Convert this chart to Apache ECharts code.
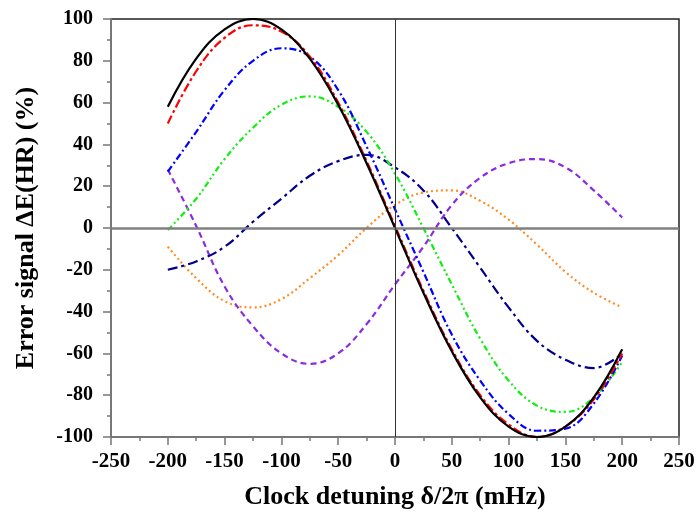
<!DOCTYPE html>
<html>
<head>
<meta charset="utf-8">
<script src="https://cdn.jsdelivr.net/npm/echarts@6/dist/echarts.min.js"></script>
<style>html,body{margin:0;padding:0;background:#fff}#c{width:700px;height:522px}</style>
</head>
<body>
<div id="c"></div>
<script>
const detuning = [-200,-175,-150,-125,-100,-75,-50,-25,0,25,50,75,100,125,150,175,200];
const sBlack  = [58, 81, 95, 100, 95, 81, 59, 31, 0, -31, -59, -81, -95, -100, -95, -81, -58];
const sRed    = [50, 75, 91, 97, 94, 82, 60, 32, 1, -30, -58, -80, -94, -100, -95, -82, -60];
const sBlue   = [27, 46, 66, 80, 86, 82, 66, 39, 9, -21, -51, -73, -89, -97, -96, -84, -61];
const sGreen  = [-1, 14, 33, 48, 59, 63, 58, 46, 26, 0, -27, -53, -73, -85, -88, -81, -64];
const sNavy   = [-20, -16, -9, 3, 14, 25, 32, 35, 29, 18, 0, -19, -38, -54, -63, -67, -60];
const sPurple = [28, 1, -28, -47, -60, -65, -60, -46, -27, -9, 11, 24, 31, 33, 29, 18, 5];
const sOrange = [-9, -24, -35, -38, -34, -24, -13, 0, 11, 17, 18, 13, 4, -8, -21, -31, -38];
const xTicks = [-250,-200,-150,-100,-50,0,50,100,150,200,250];
const yTicks = [-100,-80,-60,-40,-20,0,20,40,60,80,100];
const xTitle = 'Clock detuning δ/2π (mHz)';
const yTitle = 'Error signal ΔE(HR) (%)';

const pair = arr => detuning.map((x,i)=>[x,arr[i]]);
const font = 'Liberation Serif';
function mk(data,color,dash,extra){
  return Object.assign({type:'line',data:pair(data),smooth:0.4,symbol:'none',
    lineStyle:{color:color,width:2.2,type:dash},z:3},extra||{});
}
const chart = echarts.init(document.getElementById('c'));
chart.setOption({
  animation:false,
  grid:{left:111,right:21,top:19,bottom:85,show:true,borderColor:'#222',borderWidth:1.5},
  xAxis:{type:'value',min:-250,max:250,interval:50,
    name:xTitle,nameLocation:'middle',nameGap:47,
    nameTextStyle:{fontFamily:font,fontWeight:'bold',fontSize:26,color:'#000'},
    axisLine:{show:true,onZero:false,lineStyle:{color:'#777',width:2}},
    axisTick:{show:true,length:8,lineStyle:{color:'#777',width:1.5}},
    minorTick:{show:true,splitNumber:2,length:4,lineStyle:{color:'#777',width:1.5}},
    splitLine:{show:false},
    axisLabel:{margin:14,fontFamily:font,fontWeight:'bold',fontSize:21,color:'#000',
      formatter:v=>xTicks.includes(v)?String(v):''}},
  yAxis:{type:'value',min:-100,max:100,interval:20,
    name:yTitle,nameLocation:'middle',nameGap:72,
    nameTextStyle:{fontFamily:font,fontWeight:'bold',fontSize:26,color:'#000'},
    axisLine:{show:true,onZero:false,lineStyle:{color:'#777',width:2}},
    axisTick:{show:true,length:8,lineStyle:{color:'#777',width:1.5}},
    minorTick:{show:true,splitNumber:2,length:4,lineStyle:{color:'#777',width:1.5}},
    splitLine:{show:false},
    axisLabel:{margin:18,fontFamily:font,fontWeight:'bold',fontSize:20,color:'#000',
      formatter:v=>yTicks.includes(v)?String(v):''}},
  series:[
    mk(sOrange,'#ff8c22',[2,3]),
    mk(sPurple,'#8a2be2',[6,4]),
    mk(sNavy,'#00008b',[10,4,3,4]),
    mk(sGreen,'#11ee11',[6,3,2,3,2,3]),
    mk(sBlue,'#0000ff',[7,3,2,3]),
    mk(sRed,'#ff0000',[9,3,3,3]),
    mk(sBlack,'#000000','solid',{markLine:{silent:true,symbol:'none',label:{show:false},
      data:[{yAxis:0,lineStyle:{color:'#808080',width:2.5,type:'solid'}},
            {xAxis:0,lineStyle:{color:'#333',width:1,type:'solid'}}]}})
  ]
});
</script>
</body>
</html>
